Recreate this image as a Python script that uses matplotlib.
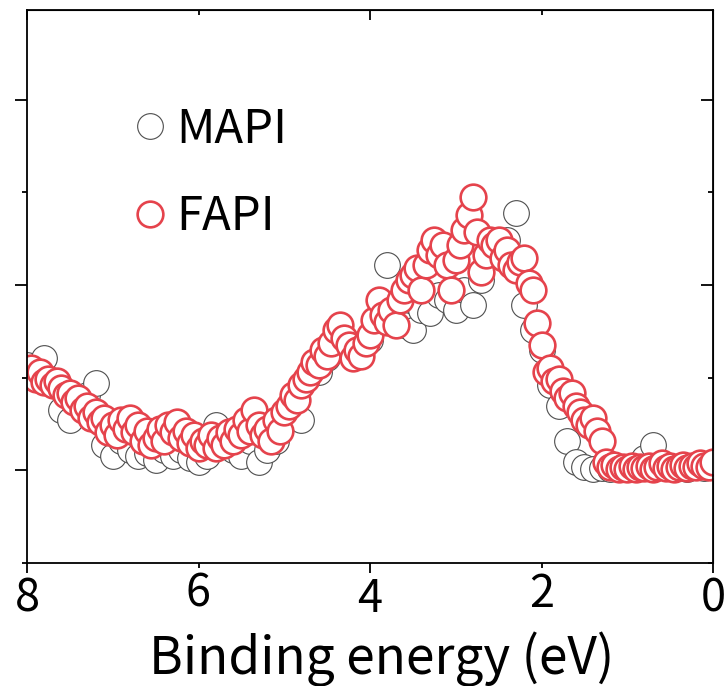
import matplotlib
matplotlib.use('Agg')
import matplotlib.pyplot as plt

plt.rcParams['font.family'] = ['Noto Sans CJK JP', 'DejaVu Sans']

# FAPI: binding energy (eV) and intensity (a.u.), 0.05 eV steps
fapi_energy = [
    8.00, 7.95, 7.90, 7.85, 7.80, 7.75, 7.70, 7.65, 7.60, 7.55,
    7.50, 7.45, 7.40, 7.35, 7.30, 7.25, 7.20, 7.15, 7.10, 7.05,
    7.00, 6.95, 6.90, 6.85, 6.80, 6.75, 6.70, 6.65, 6.60, 6.55,
    6.50, 6.45, 6.40, 6.35, 6.30, 6.25, 6.20, 6.15, 6.10, 6.05,
    6.00, 5.95, 5.90, 5.85, 5.80, 5.75, 5.70, 5.65, 5.60, 5.55,
    5.50, 5.45, 5.40, 5.35, 5.30, 5.25, 5.20, 5.15, 5.10, 5.05,
    5.00, 4.95, 4.90, 4.85, 4.80, 4.75, 4.70, 4.65, 4.60, 4.55,
    4.50, 4.45, 4.40, 4.35, 4.30, 4.25, 4.20, 4.15, 4.10, 4.05,
    4.00, 3.95, 3.90, 3.85, 3.80, 3.75, 3.70, 3.65, 3.60, 3.55,
    3.50, 3.45, 3.40, 3.35, 3.30, 3.25, 3.20, 3.15, 3.10, 3.05,
    3.00, 2.95, 2.90, 2.85, 2.80, 2.75, 2.70, 2.65, 2.60, 2.55,
    2.50, 2.45, 2.40, 2.35, 2.30, 2.25, 2.20, 2.15, 2.10, 2.05,
    2.00, 1.95, 1.90, 1.85, 1.80, 1.75, 1.70, 1.65, 1.60, 1.55,
    1.50, 1.45, 1.40, 1.35, 1.30, 1.25, 1.20, 1.15, 1.10, 1.05,
    1.00, 0.95, 0.90, 0.85, 0.80, 0.75, 0.70, 0.65, 0.60, 0.55,
    0.50, 0.45, 0.40, 0.35, 0.30, 0.25, 0.20, 0.15, 0.10, 0.05,
    0.00,
]
fapi_intensity = [
    1.06, 1.10, 0.99, 1.06, 0.95, 0.99, 0.92, 0.97, 0.89, 0.81,
    0.84, 0.74, 0.78, 0.65, 0.70, 0.56, 0.63, 0.52, 0.56, 0.41,
    0.49, 0.38, 0.54, 0.45, 0.56, 0.41, 0.49, 0.32, 0.43, 0.27,
    0.35, 0.45, 0.32, 0.49, 0.41, 0.52, 0.35, 0.43, 0.30, 0.38,
    0.24, 0.32, 0.27, 0.38, 0.24, 0.35, 0.27, 0.41, 0.32, 0.45,
    0.38, 0.54, 0.43, 0.65, 0.49, 0.38, 0.45, 0.32, 0.54, 0.43,
    0.63, 0.70, 0.81, 0.76, 0.92, 0.99, 1.06, 1.17, 1.14, 1.30,
    1.24, 1.38, 1.51, 1.57, 1.43, 1.35, 1.21, 1.30, 1.24, 1.38,
    1.46, 1.62, 1.84, 1.68, 1.60, 1.73, 1.57, 1.84, 1.95, 2.05,
    2.11, 2.18, 1.95, 2.22, 2.38, 2.49, 2.32, 2.43, 2.22, 1.95,
    2.27, 2.43, 2.59, 2.76, 2.95, 2.57, 2.14, 2.32, 2.49, 2.43,
    2.49, 2.29, 2.38, 2.22, 2.16, 2.25, 2.29, 2.02, 1.95, 1.59,
    1.35, 1.06, 1.10, 0.97, 0.99, 0.86, 0.78, 0.84, 0.70, 0.63,
    0.54, 0.49, 0.56, 0.43, 0.32, 0.09, 0.04, 0.06, 0.02, 0.04,
    0.02, 0.05, 0.02, 0.04, 0.03, 0.05, 0.02, 0.04, 0.08, 0.03,
    0.05, 0.02, 0.04, 0.06, 0.03, 0.05, 0.04, 0.08, 0.05, 0.04,
    0.09,
]

# MAPI: 0.1 eV steps
mapi_energy = [
    8.0, 7.9, 7.8, 7.7, 7.6, 7.5, 7.4, 7.3, 7.2, 7.1,
    7.0, 6.9, 6.8, 6.7, 6.6, 6.5, 6.4, 6.3, 6.2, 6.1,
    6.0, 5.9, 5.8, 5.7, 5.6, 5.5, 5.4, 5.3, 5.2, 5.1,
    5.0, 4.9, 4.8, 4.7, 4.6, 4.5, 4.4, 4.3, 4.2, 4.1,
    4.0, 3.9, 3.8, 3.7, 3.6, 3.5, 3.4, 3.3, 3.2, 3.1,
    3.0, 2.9, 2.8, 2.7, 2.6, 2.5, 2.4, 2.3, 2.2, 2.1,
    2.0, 1.9, 1.8, 1.7, 1.6, 1.5, 1.4, 1.3, 1.2, 1.1,
    1.0, 0.9, 0.8, 0.7, 0.6, 0.5, 0.4, 0.3, 0.2, 0.1,
    0.0,
]
mapi_intensity = [
    1.14, 1.08, 1.21, 0.97, 0.65, 0.54, 0.76, 0.81, 0.94, 0.27,
    0.16, 0.32, 0.22, 0.16, 0.19, 0.11, 0.22, 0.16, 0.22, 0.13,
    0.09, 0.16, 0.49, 0.27, 0.22, 0.16, 0.32, 0.09, 0.22, 0.32,
    0.54, 0.65, 0.54, 1.03, 1.06, 1.21, 1.35, 1.41, 1.24, 1.30,
    1.41, 1.84, 2.22, 1.73, 1.57, 1.51, 1.73, 1.70, 1.89, 1.84,
    1.73, 1.95, 1.78, 2.05, 2.32, 2.49, 2.49, 2.78, 1.78, 1.51,
    1.30, 0.92, 0.70, 0.32, 0.09, 0.04, 0.02, 0.03, 0.02, 0.04,
    0.02, 0.06, 0.13, 0.27, 0.04, 0.03, 0.04, 0.02, 0.04, 0.03,
    0.08,
]

red = '#e5434c'

fig = plt.figure(figsize=(7.27, 6.86), dpi=100)
ax = fig.add_axes([27/727, 1 - 563/686, 686/727, 553/686])

ax.plot(mapi_energy, mapi_intensity, 'o', ms=18.5, mfc='white', mec='#4d4d4d',
        mew=0.8, ls='none', label='MAPI')
ax.plot(fapi_energy, fapi_intensity, 'o', ms=18.5, mfc='white', mec=red,
        mew=1.9, ls='none', label='FAPI')

ax.set_xlim(8, 0)
ax.set_ylim(-1.0, 4.97)

for s in ax.spines.values():
    s.set_linewidth(1.3)

# x ticks: long at 8, 4, 0 and short at 6, 2, all labelled
ax.set_xticks([0, 4, 8])
ax.set_xticks([2, 6], minor=True)
ax.set_xticklabels(['0', '4', '8'])
ax.set_xticklabels(['2', '6'], minor=True)
ax.tick_params(axis='x', which='both', direction='out', labelsize=32.5,
               width=1.3, pad=2)
ax.tick_params(axis='x', which='major', length=7)
ax.tick_params(axis='x', which='minor', length=3.5)

# y ticks without labels
ax.set_yticks([0, 2, 4])
ax.set_yticks([-1, 1, 3], minor=True)
ax.tick_params(axis='y', which='both', direction='out', labelleft=False,
               width=1.3)
ax.tick_params(axis='y', which='major', length=8.5)
ax.tick_params(axis='y', which='minor', length=3.5)

top = ax.secondary_xaxis('top')
top.set_xticks([0, 4, 8])
top.set_xticks([2, 6], minor=True)
top.tick_params(which='both', direction='in', labeltop=False, width=1.3)
top.tick_params(which='major', length=7)
top.tick_params(which='minor', length=3.5)
top.set_xticklabels([])

right = ax.secondary_yaxis('right')
right.set_yticks([0, 2, 4])
right.set_yticks([-1, 1, 3], minor=True)
right.tick_params(which='both', direction='in', labelright=False, width=1.3)
right.tick_params(which='major', length=8.5)
right.tick_params(which='minor', length=3.5)
right.set_yticklabels([])

ax.set_xlabel('Binding energy (eV)', fontsize=37, va='baseline')
ax.xaxis.set_label_coords(0.517, -0.2025)

ax.legend(loc='upper left', bbox_to_anchor=(0.1449, 0.828), frameon=False,
          fontsize=34, handlelength=1.0, handletextpad=0.06,
          labelspacing=0.83, borderpad=0, borderaxespad=0, markerscale=1.0)

fig.savefig('out.png', dpi=100)
